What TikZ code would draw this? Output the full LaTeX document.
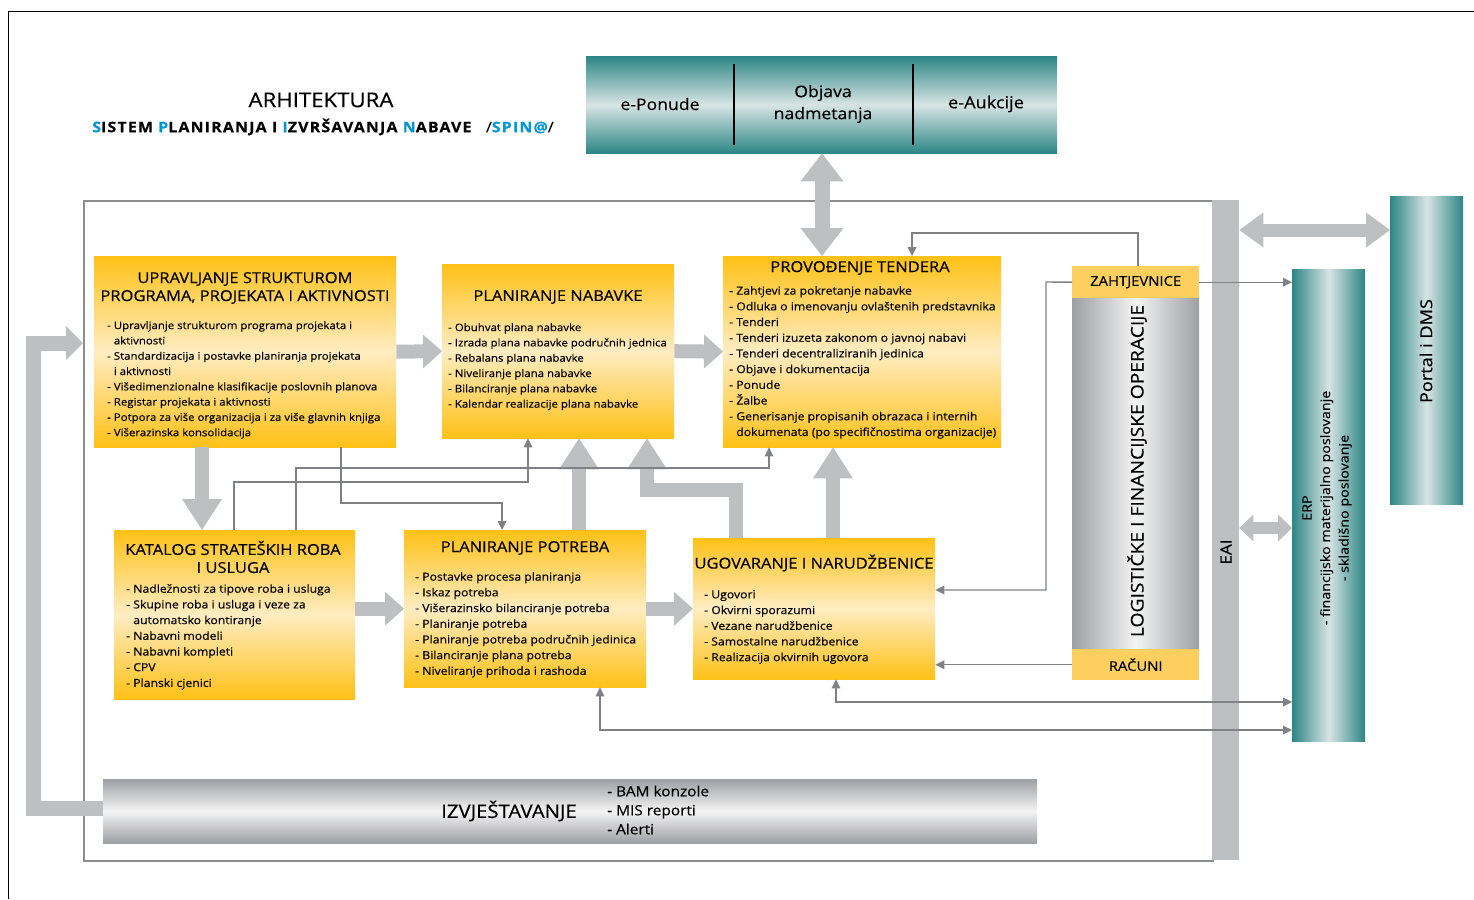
\documentclass[tikz,border=0pt]{standalone}
\usepackage{fontspec}
\setmainfont{Open Sans}[FakeStretch=1.1, FakeBold=0.3]
\usetikzlibrary{arrows.meta,calc}
\definecolor{ylw}{RGB}{255,193,22}
\definecolor{ylwl}{RGB}{255,236,194}
\definecolor{tagc}{RGB}{253,207,95}
\definecolor{tealD}{RGB}{44,134,133}
\definecolor{tealL}{RGB}{216,228,228}
\definecolor{arrg}{RGB}{190,191,193}
\definecolor{lineg}{RGB}{128,129,132}
\definecolor{frameg}{RGB}{140,141,144}
\definecolor{blu}{RGB}{0,150,214}
\definecolor{grD}{RGB}{158,159,163}
\definecolor{grL}{RGB}{244,244,244}
\tikzset{
  ybox/.style={rectangle, inner sep=0pt, anchor=north west, top color=ylw, bottom color=ylw, middle color=ylwl},
  tealv/.style={rectangle, inner sep=0pt, anchor=north west, top color=tealD, bottom color=tealD, middle color=tealL},
  tealh/.style={rectangle, inner sep=0pt, anchor=north west, left color=tealD, right color=tealD, middle color=tealL},
  grayh/.style={rectangle, inner sep=0pt, anchor=north west, left color=grD, right color=grD, middle color=grL},
  grayv/.style={rectangle, inner sep=0pt, anchor=north west, top color=grD, bottom color=grD, middle color=grL},
  tagbox/.style={rectangle, inner sep=0pt, anchor=north west, fill=tagc},
  tagtxt/.style={font=\fontsize{13.5}{15}\selectfont, inner sep=0pt},
  ttl/.style={font=\fontsize{15}{18}\selectfont, align=center, inner sep=0pt},
  lsta/.style={font=\fontsize{10.4}{15.3}\selectfont, align=left, anchor=north west, inner sep=0pt},
  lstb/.style={font=\fontsize{11.1}{15.7}\selectfont, align=left, anchor=north west, inner sep=0pt},
  harrow/.style={draw=arrg, line width=14pt, -{Triangle[width=34pt,length=19pt,line width=0pt]}},
  varrow/.style={draw=arrg, line width=14pt, -{Triangle[width=40pt,length=31pt,line width=0pt]}},
  conn/.style={draw=lineg, line width=1.4pt, -{Triangle[width=9pt,length=9pt,line width=0pt]}},
  dconn/.style={draw=lineg, line width=1.4pt, {Triangle[width=9pt,length=9pt,line width=0pt]}-{Triangle[width=9pt,length=9pt,line width=0pt]}},
}
\begin{document}
\begin{tikzpicture}[x=1pt,y=-1pt]
\useasboundingbox (0,0) rectangle (1474,899);
% outer frame
\draw[black, line width=1pt] (8,899) -- (8,12) -- (1474,12);
% title
\node[font=\fontsize{20.2}{22}\selectfont, inner sep=0pt] (t1) at (321,100) {ARHITEKTURA};
\node[font=\fontsize{14.5}{16}\selectfont\bfseries\addfontfeatures{LetterSpace=8}, inner sep=0pt] (t2) at (323,127)
  {{\color{blu}S}ISTEM {\color{blu}P}LANIRANJA I {\color{blu}I}ZVRŠAVANJA {\color{blu}N}ABAVE\quad{\mdseries/}{\color{blu}SPIN@}{\mdseries/}};
% top bar
\node[tealv, minimum width=471, minimum height=97] (top) at (586,56) {};
\draw[black, line width=1.5pt] (734,64) -- (734,145);
\draw[black, line width=1.5pt] (913,64) -- (913,145);
\node[font=\fontsize{16}{22}\selectfont, inner sep=0pt] (ep) at (660,104) {e-Ponude};
\node[font=\fontsize{16}{22}\selectfont, inner sep=0pt, align=center] (on) at (823,104) {Objava\\nadmetanja};
\node[font=\fontsize{16.5}{22}\selectfont, inner sep=0pt] (ea) at (986,104) {e-Aukcije};
% inner frame and EAI
\node[draw=frameg, line width=1.5pt, inner sep=0pt, anchor=north west, minimum width=1129, minimum height=660] (frame) at (83,200) {};
\node[fill=arrg, inner sep=0pt, anchor=north west, minimum width=27, minimum height=660] (eai) at (1212,200) {};
\node[rotate=90, font=\fontsize{15.5}{18}\selectfont, inner sep=0pt] (eait) at (1226,552) {EAI};
% Portal and ERP
\node[tealh, minimum width=73, minimum height=308] (portal) at (1390,196) {};
\node[rotate=90, font=\fontsize{16.5}{18}\selectfont, inner sep=0pt] (portalt) at (1426,351) {Portal i DMS};
\node[tealh, minimum width=73, minimum height=472] (erp) at (1292,269) {};
\node[rotate=90, font=\fontsize{13}{18.5}\selectfont, inner sep=0pt, align=center] (erpt) at (1327,508)
  {ERP\\- financijsko materijalno poslovanje\\- skladišno poslovanje};
% logistic column
\node[grayh, minimum width=127, minimum height=352] (log) at (1072,297) {};
\node[rotate=90, font=\fontsize{17.5}{18}\selectfont, inner sep=0pt] (logt) at (1137,471) {LOGISTIČKE I FINANCIJSKE OPERACIJE};
\node[tagbox, minimum width=127, minimum height=32] (zah) at (1072,266) {};
\node[tagtxt] at (zah.center) {ZAHTJEVNICE};
\node[tagbox, minimum width=127, minimum height=31] (rac) at (1072,649) {};
\node[tagtxt] at (rac.center) {RAČUNI};
% yellow boxes
\node[ybox, minimum width=302, minimum height=191] (b1) at (94,256) {};
\node[ttl] (b1t) at (245,288) {UPRAVLJANJE STRUKTUROM\\PROGRAMA, PROJEKATA I AKTIVNOSTI};
\node[lsta] (b1l) at (107,321) {- Upravljanje strukturom programa projekata i\\\phantom{- }aktivnosti\\- Standardizacija i postavke planiranja projekata\\\phantom{- }i aktivnosti\\- Višedimenzionalne klasifikacije poslovnih planova\\- Registar projekata i aktivnosti\\- Potpora za više organizacija i za više glavnih knjiga\\- Višerazinska konsolidacija};

\node[ybox, minimum width=232, minimum height=174] (b2) at (442,264) {};
\node[ttl] (b2t) at (558,297) {PLANIRANJE NABAVKE};
\node[lsta] (b2l) at (448,323) {- Obuhvat plana nabavke\\- Izrada plana nabavke područnih jednica\\- Rebalans plana nabavke\\- Niveliranje plana nabavke\\- Bilanciranje plana nabavke\\- Kalendar realizacije plana nabavke};

\node[ybox, minimum width=278, minimum height=191] (b3) at (723,256) {};
\node[ttl] (b3t) at (860,268) {PROVOĐENJE TENDERA};
\node[lstb] (b3l) at (729,286) {- Zahtjevi za pokretanje nabavke\\- Odluka o imenovanju ovlaštenih predstavnika\\- Tenderi\\- Tenderi izuzeta zakonom o javnoj nabavi\\- Tenderi decentraliziranih jedinica\\- Objave i dokumentacija\\- Ponude\\- Žalbe\\- Generisanje propisanih obrazaca i internih\\\phantom{- }dokumenata (po specifičnostima organizacije)};

\node[ybox, minimum width=241, minimum height=169] (b4) at (114,530) {};
\node[ttl] (b4t) at (233,557) {KATALOG STRATEŠKIH ROBA\\I USLUGA};
\node[lstb] (b4l) at (126,584) {- Nadležnosti za tipove roba i usluga\\- Skupine roba i usluga i veze za\\\phantom{- }automatsko kontiranje\\- Nabavni modeli\\- Nabavni kompleti\\- CPV\\- Planski cjenici};

\node[ybox, minimum width=242, minimum height=157] (b5) at (404,530) {};
\node[ttl] (b5t) at (525,548) {PLANIRANJE POTREBA};
\node[lstb] (b5l) at (415,572) {- Postavke procesa planiranja\\- Iskaz potreba\\- Višerazinsko bilanciranje potreba\\- Planiranje potreba\\- Planiranje potreba područnih jedinica\\- Bilanciranje plana potreba\\- Niveliranje prihoda i rashoda};

\node[ybox, minimum width=242, minimum height=141] (b6) at (693,538) {};
\node[ttl] (b6t) at (814,563) {UGOVARANJE I NARUDŽBENICE};
\node[lstb] (b6l) at (704,590) {- Ugovori\\- Okvirni sporazumi\\- Vezane narudžbenice\\- Samostalne narudžbenice\\- Realizacija okvirnih ugovora};

% reporting bar
\node[grayv, minimum width=934, minimum height=64] (rep) at (103,779) {};
\node[font=\fontsize{18.5}{20}\selectfont, inner sep=0pt] (rept) at (509,811) {IZVJEŠTAVANJE};
\node[font=\fontsize{14}{19}\selectfont, inner sep=0pt, align=left, anchor=west] (repl) at (607,810) {- BAM konzole\\- MIS reporti\\- Alerti};

% thick arrows
\draw[harrow] (b1.east) -- (b2.west);
\draw[harrow] (b2.east) -- (b3.west);
\draw[harrow] (b5.west -| b4.east) -- (b5.west);
\draw[harrow] (b5.east) -- (b6.west |- b5.east);
\draw[varrow] (b1.south -| 202,0) -- (b4.north -| 202,0);
\draw[varrow] (b5.north -| 579,0) -- (b2.south -| 579,0);
\draw[varrow] (b6.north -| 833,0) -- (b3.south -| 833,0);
\draw[varrow] (b6.north -| 736,0) -- (736,490) -- (647,490) -- (b2.south -| 647,0);
\draw[draw=arrg, line width=15pt, {Triangle[width=43pt,length=28pt,line width=0pt]}-{Triangle[width=43pt,length=28pt,line width=0pt]}] (top.south -| 822,0) -- (b3.north -| 822,0);
\draw[draw=arrg, line width=13pt, {Triangle[width=35pt,length=24pt,line width=0pt]}-{Triangle[width=35pt,length=24pt,line width=0pt]}] (eai.east |- 0,230) -- (portal.west |- 0,230);
\draw[draw=arrg, line width=12pt, {Triangle[width=27pt,length=14pt,line width=0pt]}-{Triangle[width=27pt,length=14pt,line width=0pt]}] (eai.east |- 0,528) -- (erp.west |- 0,528);
\coordinate (fb) at (83,343);
\draw[draw=arrg, line width=15pt, -{Triangle[width=34pt,length=17pt,line width=0pt]}] (rep.west |- 0,808) -- (33,808) -- (33,343) -- (fb);

% thin connectors
\draw[conn] (b1.south -| 341,0) -- (341,503) -- (502,503) -- (b5.north -| 502,0);
\draw[conn] (b4.north -| 234,0) -- (234,482) -- (528,482) -- (b2.south -| 528,0);
\draw[conn] (b4.north -| 296,0) -- (296,468) -- (769,468) -- (b3.south -| 769,0);
\draw[conn] (zah.north -| 1138,0) -- (1138,233) -- (912,233) -- (b3.north -| 912,0);
\draw[conn] (zah.west) -- (1046,282) -- (1046,590) -- (b6.east |- 0,590);
\draw[conn] (rac.west) -- (b6.east |- rac.west);
\draw[conn] (zah.east) -- (erp.west |- zah.east);
\draw[dconn] (b6.south -| 836,0) -- (836,702) -- (erp.west |- 0,702);
\draw[dconn] (b5.south -| 600,0) -- (600,730) -- (erp.west |- 0,730);
\end{tikzpicture}
\end{document}
